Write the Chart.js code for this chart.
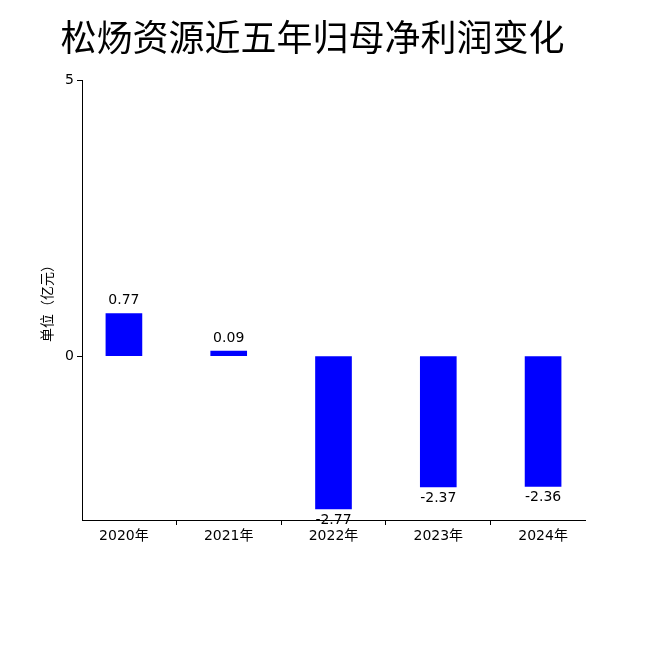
<!DOCTYPE html>
<html>
<head>
<meta charset="utf-8">
<script src="https://cdn.jsdelivr.net/npm/chart.js@4/dist/chart.umd.min.js"></script>
<style>html,body{margin:0;padding:0;background:#fff}#wrap{width:650px;height:650px}</style>
</head>
<body>
<div id="wrap"><canvas id="c" width="650" height="650"></canvas></div>
<script>
// ---- dados ----
var years = ['2020年', '2021年', '2022年', '2023年', '2024年'];
var profit = [0.77, 0.09, -2.77, -2.37, -2.36];
var yTicks = [0, 5];

var FONT = "'DejaVu Sans', 'Noto Sans CJK SC', sans-serif";
Chart.defaults.font.family = FONT;
Chart.defaults.color = '#000';

var points = profit.map(function(v, i) { return { x: i, y: v }; });

var labelsPlugin = {
  id: 'barLabels',
  afterDatasetsDraw: function(chart) {
    var ctx = chart.ctx;
    var meta = chart.getDatasetMeta(0);
    ctx.save();
    ctx.font = '14px ' + FONT;
    ctx.fillStyle = '#000';
    ctx.textAlign = 'center';
    profit.forEach(function(v, i) {
      var bar = meta.data[i];
      if (v >= 0) { ctx.textBaseline = 'bottom'; ctx.fillText(v.toFixed(2), bar.x, bar.y - 6); }
      else { ctx.textBaseline = 'top'; ctx.fillText(v.toFixed(2), bar.x, bar.y + 4); }
    });
    ctx.restore();
  }
};

new Chart(document.getElementById('c').getContext('2d'), {
  type: 'bar',
  data: { datasets: [{ data: points, backgroundColor: '#0000ff', barThickness: 36 }] },
  options: {
    responsive: false, animation: false,
    layout: { padding: { left: 40, right: 65, top: 0, bottom: 100 } },
    scales: {
      x: {
        type: 'linear', min: -0.4, max: 4.4, offset: false,
        grid: { drawOnChartArea: false, color: '#000', tickLength: 5 },
        border: { color: '#000' },
        afterBuildTicks: function(s) { s.ticks = years.map(function(y, i) { return { value: i }; }); },
        afterFit: function(s) { s.height = 30; },
        ticks: { font: { size: 14 }, color: '#000', callback: function(v) { return years[v]; } }
      },
      y: {
        min: -2.97, max: 5,
        grid: { drawOnChartArea: false, color: '#000', tickLength: 5 },
        border: { color: '#000' },
        afterBuildTicks: function(s) { s.ticks = yTicks.map(function(v) { return { value: v }; }); },
        afterFit: function(s) { s.width = 42; },
        ticks: { font: { size: 14 }, color: '#000' },
        title: { display: true, text: '单位（亿元）', font: { size: 14 }, color: '#000', padding: 0 }
      }
    },
    plugins: {
      legend: { display: false },
      tooltip: { enabled: false },
      title: { display: true, text: '松炀资源近五年归母净利润变化', font: { size: 36, weight: 'normal' }, color: '#000', padding: { top: 20, bottom: 17 } }
    }
  },
  plugins: [labelsPlugin]
});
</script>
</body>
</html>
